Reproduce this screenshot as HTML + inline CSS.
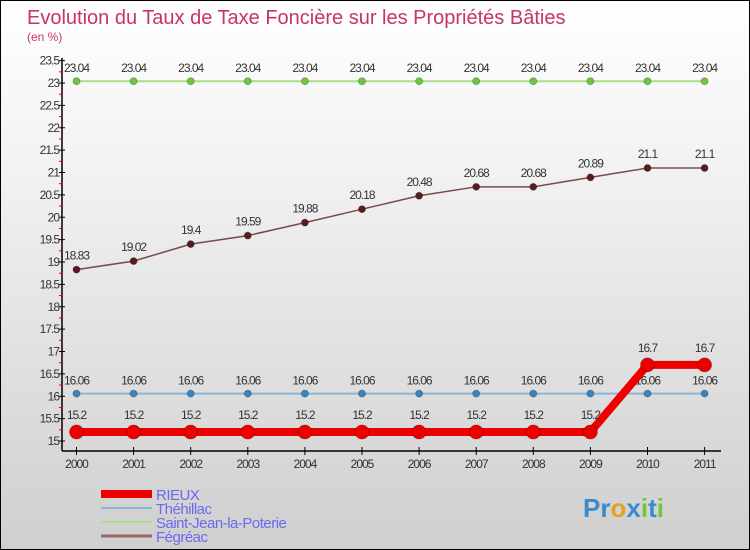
<!DOCTYPE html>
<html><head><meta charset="utf-8"><style>
body{margin:0}
#c{width:748px;height:548px;border:1px solid #000;background:linear-gradient(#fff,#f2f2f2 30%,#cfcfcf);position:relative;overflow:hidden;font-family:"Liberation Sans",sans-serif}
svg{position:absolute;left:0;top:0}
</style></head><body>
<div id="c">
<svg id="s" width="750" height="550">
<text x="26" y="23" font-size="20" fill="#c8336a">Evolution du Taux de Taxe Foncière sur les Propriétés Bâties</text>
<text x="26" y="40" font-size="12" fill="#c8336a">(en %)</text>
</svg>
</div>
<script>
const years=[2000,2001,2002,2003,2004,2005,2006,2007,2008,2009,2010,2011];
const rieux=[15.2,15.2,15.2,15.2,15.2,15.2,15.2,15.2,15.2,15.2,16.7,16.7];
const thehillac=[16.06,16.06,16.06,16.06,16.06,16.06,16.06,16.06,16.06,16.06,16.06,16.06];
const stjean=[23.04,23.04,23.04,23.04,23.04,23.04,23.04,23.04,23.04,23.04,23.04,23.04];
const fegreac=[18.83,19.02,19.4,19.59,19.88,20.18,20.48,20.68,20.68,20.89,21.1,21.1];
const yTicks=[15,15.5,16,16.5,17,17.5,18,18.5,19,19.5,20,20.5,21,21.5,22,22.5,23,23.5];
const names=["RIEUX","Théhillac","Saint-Jean-la-Poterie","Fégréac"];
const svg=document.getElementById('s');const NS="http://www.w3.org/2000/svg";
const X=i=>75.5+i*57.1, Y=v=>440-(v-15)*44.75;
function el(t,a,p){const e=document.createElementNS(NS,t);for(const k in a)e.setAttribute(k,a[k]);(p||svg).appendChild(e);return e;}
let ax=el('line',{x1:61,y1:57,x2:61,y2:450,stroke:'#000','stroke-width':1.5});

let bx=el('line',{x1:61,y1:450,x2:720,y2:450,stroke:'#000','stroke-width':1.5});

yTicks.forEach(v=>{el('line',{x1:58,x2:64,y1:Y(v),y2:Y(v),stroke:'#000'});
 if(v<23.5)el('line',{x1:58,x2:61,y1:Y(v+0.25),y2:Y(v+0.25),stroke:'#e00'});
 const t=el('text',{x:58,y:Y(v)+4,'font-size':12,fill:'#333','text-anchor':'end','letter-spacing':'-1'});t.textContent=v;
 });
years.forEach((y,i)=>{el('line',{x1:X(i),x2:X(i),y1:446,y2:454,stroke:'#000'});
 const t=el('text',{x:X(i),y:467,'font-size':12,fill:'#333','text-anchor':'middle','letter-spacing':'-1'});t.textContent=y;
 });
function series(d,col,lw,r,dot,name,lblOff){
 const g=el('g',{});
 el('polyline',{points:d.map((v,i)=>X(i)+','+Y(v)).join(' '),fill:'none',stroke:col,'stroke-width':lw},g);
 d.forEach((v,i)=>{const c=el('circle',{cx:X(i),cy:Y(v),r:r,fill:dot,stroke:'rgba(0,0,0,0.25)'},g);
  
  const t=el('text',{x:X(i),y:Y(v)-lblOff,'font-size':12,fill:'#333','text-anchor':'middle','letter-spacing':'-1'},g);t.textContent=v;
  });}
series(stjean,'#a8e08a',2,3.5,'#6cc83c','saint-jean',9);
series(fegreac,'#7a4a4a',1.5,3.5,'#5a1a1f',"fegreac",10);
series(thehillac,'#8ab4d4',2,3.5,'#3a84c0','thehillac',9);
series(rieux,'#ee0000',8,7,'#ee0000','rieux',13);
const cols=['#ee0000','#8ab4d4','#a8e08a','#9a6a6a'],ws=[8,2,2,3];
names.forEach((n,i)=>{const y=493+i*14;
 const l=el('line',{x1:100,x2:151,y1:y,y2:y,stroke:cols[i],'stroke-width':ws[i]});
 
 const t=el('text',{x:155,y:y+6,'font-size':15,fill:'#6a6aee','letter-spacing':'-0.5'});t.textContent=n;
 });
const lg=el('text',{x:582,y:516,'font-size':26,'font-weight':'bold',fill:'#3a8ad0'});
lg.innerHTML='<tspan fill="#3a8ad0">Pr</tspan><tspan fill="#e8a020">o</tspan><tspan fill="#3a8ad0">x</tspan><tspan fill="#6cc83c">i</tspan><tspan fill="#3a8ad0">t</tspan><tspan fill="#6cc83c">i</tspan>';

</script>
</body></html>
